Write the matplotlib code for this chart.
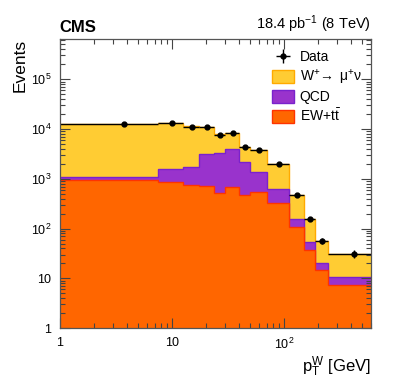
import numpy as np
import matplotlib
matplotlib.use("Agg")
import matplotlib.pyplot as plt
from matplotlib.ticker import LogLocator, FuncFormatter, NullFormatter
from matplotlib.patches import Patch

plt.rcParams['font.family'] = ['Liberation Sans', 'DejaVu Sans']
plt.rcParams['mathtext.fontset'] = 'custom'
plt.rcParams['mathtext.rm'] = 'Liberation Sans'
plt.rcParams['mathtext.it'] = 'Liberation Sans:italic'
plt.rcParams['mathtext.sf'] = 'Liberation Sans'

# bin edges in pT(W) [GeV]; first bin starts at 0 but the log axis starts at 1
edges = [1, 7.5, 12.5, 17.5, 24, 30, 40, 50, 70, 110, 150, 190, 250, 600]
centers = [3.75, 10, 15, 20.75, 27, 35, 45, 60, 90, 130, 170, 220, 425]

data = [12700, 13200, 11000, 10800, 7600, 8400, 4400, 3750, 1950, 470, 155, 56, 31]
ew_tt = [950, 880, 745, 720, 514, 698, 475, 538, 324, 110, 37, 14.8, 7.4]
qcd = [157, 670, 1015, 2400, 2846, 3232, 1680, 838, 293, 49, 16, 6.0, 3.2]
wplus = [11493, 11520, 9740, 8080, 4500, 4538, 2275, 2424, 1343, 309, 102, 35.8, 20.0]

ew_tt = np.array(ew_tt)
qcd_top = ew_tt + np.array(qcd)
tot = qcd_top + np.array(wplus)

fig = plt.figure(figsize=(3.99, 3.87), dpi=100)
ax = fig.add_axes([0.150, 0.152, 0.780, 0.747])

ax.stairs(tot, edges, baseline=qcd_top, fill=True, color='#ffcc33')
ax.stairs(tot, edges, baseline=None, color='#ffaa00', lw=1)
ax.stairs(qcd_top, edges, baseline=ew_tt, fill=True, color='#9933cc')
ax.stairs(qcd_top, edges, baseline=None, color='#7a22cc', lw=1)
ax.stairs(ew_tt, edges, baseline=1e-3, fill=True, color='#ff6600')
ax.stairs(ew_tt, edges, baseline=None, color='#ff3300', lw=1)

xlo = np.array(centers) - np.array(edges[:-1])
xhi = np.array(edges[1:]) - np.array(centers)
hd = ax.errorbar(centers, data, xerr=[xlo, xhi], yerr=np.sqrt(data), fmt='o', color='black',
                 ms=3.5, lw=1, capsize=0)

ax.set_xscale('log')
ax.set_yscale('log')
ax.set_xlim(1, 600)
ax.set_ylim(1, 6.4e5)

def fmt(v, pos):
    if v == 1:
        return '1'
    if v == 10:
        return '10'
    return r'$10^{%d}$' % round(np.log10(v))

ax.xaxis.set_major_formatter(FuncFormatter(fmt))
ax.yaxis.set_major_formatter(FuncFormatter(fmt))
ax.xaxis.set_minor_formatter(NullFormatter())
ax.yaxis.set_minor_formatter(NullFormatter())
ax.yaxis.set_minor_locator(LogLocator(base=10, subs=np.arange(2, 10), numticks=20))
ax.tick_params(which='both', direction='in', top=True, right=True, labelsize=9, color='#444444')
ax.tick_params(which='major', length=7, width=0.8, pad=6)
ax.tick_params(which='minor', length=3.5, width=0.8)
for s in ax.spines.values():
    s.set_color('#555555')
    s.set_linewidth(0.9)

ax.set_xlabel(r'$\mathrm{p_{T}^{W}}$ [GeV]', fontsize=12, loc='right', labelpad=2)
ax.set_ylabel('Events', fontsize=12.5, loc='top', labelpad=2)

ax.text(0.0, 1.015, 'CMS', transform=ax.transAxes, fontsize=12, fontweight='bold', ha='left', va='bottom')
ax.text(1.0, 1.015, r'18.4 pb$^{-1}$ (8 TeV)', transform=ax.transAxes, fontsize=10.5, ha='right', va='bottom')

handles = [hd,
           Patch(facecolor='#ffcc33', edgecolor='#ffaa00'),
           Patch(facecolor='#9933cc', edgecolor='#7a22cc'),
           Patch(facecolor='#ff6600', edgecolor='#ff3300')]
labels = ['Data', 'W$^{+}\\!\\rightarrow$ \u03bc$^{+}$\u03bd', 'QCD', r'EW+$\mathrm{t\bar{t}}$']
ax.legend(handles, labels, loc='upper left', bbox_to_anchor=(0.655, 0.99), frameon=False,
          fontsize=10, handlelength=1.6, handleheight=1.0, handletextpad=0.4,
          labelspacing=0.25, borderaxespad=0.2)

fig.savefig('out.png', dpi=100)
